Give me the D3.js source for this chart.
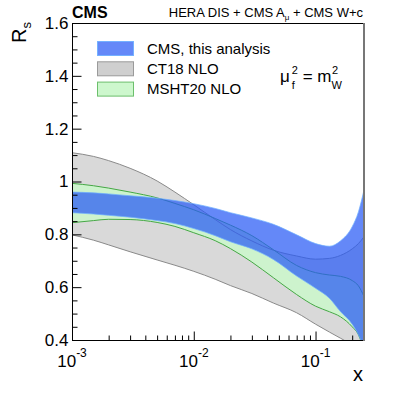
<!DOCTYPE html>
<meta charset="utf-8">
<head>
  <title>Rs vs x</title>
  <script src="https://d3js.org/d3.v7.min.js"></script>
  <style>
    body { margin: 0; background: #fff; }
    text { font-family: "Liberation Sans", Arial, sans-serif; fill: #000; }
  </style>
</head>
<body>
<svg id="chart"></svg>
<script>
// x grid of the bands
var xVals    = [0.001, 0.0015, 0.002, 0.003, 0.005, 0.007, 0.01, 0.015, 0.02, 0.03, 0.045, 0.07, 0.1, 0.13, 0.16, 0.2, 0.225, 0.25];
// CMS, this analysis
var cmsHi    = [0.960, 0.957, 0.953, 0.946, 0.937, 0.928, 0.916, 0.898, 0.882, 0.862, 0.838, 0.798, 0.765, 0.755, 0.775, 0.829, 0.885, 0.968];
var cmsLo    = [0.882, 0.877, 0.872, 0.865, 0.852, 0.841, 0.822, 0.795, 0.772, 0.745, 0.705, 0.642, 0.596, 0.558, 0.508, 0.460, 0.420, 0.370];
// CT18 NLO
var ct18Hi   = [1.109, 1.095, 1.079, 1.050, 1.002, 0.960, 0.912, 0.856, 0.818, 0.775, 0.740, 0.718, 0.706, 0.709, 0.720, 0.745, 0.765, 0.791];
var ct18Lo   = [0.798, 0.778, 0.760, 0.734, 0.703, 0.683, 0.660, 0.630, 0.606, 0.576, 0.540, 0.503, 0.460, 0.430, 0.407, 0.382, 0.368, 0.352];
// MSHT20 NLO
var mshtHi   = [0.993, 0.984, 0.975, 0.960, 0.938, 0.917, 0.893, 0.860, 0.835, 0.795, 0.742, 0.682, 0.655, 0.646, 0.641, 0.625, 0.605, 0.565];
var mshtLo   = [0.844, 0.852, 0.857, 0.856, 0.845, 0.830, 0.806, 0.776, 0.746, 0.695, 0.636, 0.572, 0.528, 0.507, 0.488, 0.450, 0.420, 0.360];

var yMajor = [0.4, 0.6, 0.8, 1.0, 1.2, 1.4, 1.6];
var yLabels = ["0.4", "0.6", "0.8", "1", "1.2", "1.4", "1.6"];
var xMajor = [0.001, 0.01, 0.1];
var xExp = ["-3", "-2", "-1"];
var legendNames = ["CMS, this analysis", "CT18 NLO", "MSHT20 NLO"];

var W = 399, H = 404;
var pL = 72, pR = 364, pT = 23, pB = 340;

var svg = d3.select("#chart").attr("width", W).attr("height", H);

var x = d3.scaleLog().domain([0.001, 0.25]).range([pL, pR]);
var y = d3.scaleLinear().domain([0.4, 1.6]).range([pB, pT]);

svg.append("clipPath").attr("id", "clip")
  .append("rect").attr("x", pL).attr("y", pT)
  .attr("width", pR - pL).attr("height", pB - pT);

function band(hi, lo) {
  return d3.area()
    .x(function(d, i) { return x(xVals[i]); })
    .y0(function(d, i) { return y(lo[i]); })
    .y1(function(d, i) { return y(hi[i]); })
    .curve(d3.curveMonotoneX)(xVals);
}
function edge(vals) {
  return d3.line()
    .x(function(d, i) { return x(xVals[i]); })
    .y(function(d, i) { return y(vals[i]); })
    .curve(d3.curveMonotoneX)(xVals);
}

var plot = svg.append("g").attr("clip-path", "url(#clip)");

var grayFill = "#d9d9d9", grayLine = "#8a8a8a";
var greenFill = "#cdf3cd", greenLine = "#45a845";
var blueFill = "rgba(40,90,245,0.72)", blueLine = "rgba(110,175,255,0.9)";

plot.append("path").attr("d", band(ct18Hi, ct18Lo)).attr("fill", grayFill);
plot.append("path").attr("d", band(mshtHi, mshtLo)).attr("fill", greenFill);
[ct18Hi, ct18Lo].forEach(function(v) {
  plot.append("path").attr("d", edge(v)).attr("fill", "none").attr("stroke", grayLine).attr("stroke-width", 1);
});
[mshtHi, mshtLo].forEach(function(v) {
  plot.append("path").attr("d", edge(v)).attr("fill", "none").attr("stroke", greenLine).attr("stroke-width", 1);
});
plot.append("path").attr("d", band(cmsHi, cmsLo)).attr("fill", blueFill);
[cmsHi, cmsLo].forEach(function(v) {
  plot.append("path").attr("d", edge(v)).attr("fill", "none").attr("stroke", blueLine).attr("stroke-width", 0.8);
});

// frame
svg.append("rect").attr("x", pL + 0.5).attr("y", pT + 0.5)
  .attr("width", pR - pL - 0.5).attr("height", pB - pT)
  .attr("fill", "none").attr("stroke", "#000").attr("stroke-width", 1);
svg.append("line").attr("x1", pR).attr("x2", pR).attr("y1", pT).attr("y2", pB + 1)
  .attr("stroke", "#777").attr("stroke-width", 2);

// y axis ticks (inside)
var yMinor = d3.range(0.45, 1.6, 0.05).filter(function(v) {
  return Math.abs(Math.round(v * 5) - v * 5) > 0.01;
});
svg.append("g").attr("transform", "translate(" + (pL + 0.5) + ",0)")
  .call(d3.axisLeft(y).tickValues(yMinor).tickSize(-5).tickFormat(""))
  .call(function(g) { g.select(".domain").remove(); });
var yAx = svg.append("g").attr("transform", "translate(" + (pL + 0.5) + ",0)")
  .call(d3.axisLeft(y).tickValues(yMajor).tickSize(-9).tickPadding(4)
    .tickFormat(function(d, i) { return yLabels[i]; }));
yAx.select(".domain").remove();
yAx.selectAll("text").style("font-size", "17px").attr("font-family", null);

// x axis ticks (inside)
var xMinor = [];
[0.001, 0.01, 0.1].forEach(function(dec) {
  for (var k = 2; k <= 9; k++) if (dec * k <= 0.25) xMinor.push(dec * k);
});
svg.append("g").attr("transform", "translate(0," + (pB + 0.5) + ")")
  .call(d3.axisBottom(x).tickValues(xMinor).tickSize(-5).tickFormat(""))
  .call(function(g) { g.select(".domain").remove(); });
svg.append("g").attr("transform", "translate(0," + (pB + 0.5) + ")")
  .call(d3.axisBottom(x).tickValues(xMajor).tickSize(-9).tickFormat(""))
  .call(function(g) { g.select(".domain").remove(); });

var xl = svg.selectAll(".xlab").data(xMajor).enter().append("text")
  .attr("class", "xlab")
  .attr("x", function(d) { return x(d); })
  .attr("y", 367)
  .attr("text-anchor", "middle")
  .style("font-size", "17px");
xl.append("tspan").text("10");
xl.append("tspan").attr("dy", -10).style("font-size", "12px").text(function(d, i) { return xExp[i]; });

svg.selectAll(".tick line").attr("stroke", "#000");

// axis titles
svg.append("text").attr("x", 363).attr("y", 381).attr("text-anchor", "end")
  .style("font-size", "20px").text("x");
var yt = svg.append("text").attr("transform", "translate(26,43) rotate(-90)")
  .attr("text-anchor", "start").style("font-size", "20px");
yt.append("tspan").text("R");
yt.append("tspan").attr("dy", 5).style("font-size", "13px").text("s");

// header
svg.append("text").attr("x", 72).attr("y", 18).style("font-size", "16px")
  .style("font-weight", "bold").text("CMS");
var hd = svg.append("text").attr("x", 363).attr("y", 17).attr("text-anchor", "end")
  .style("font-size", "13px");
hd.append("tspan").text("HERA DIS + CMS A");
hd.append("tspan").attr("dy", 3).style("font-size", "8px").text("\u03bc");
hd.append("tspan").attr("dy", -3).text(" + CMS W+c");

// legend
var legFill = [blueFill, "#cfcfcf", "#cdf7cd"];
var legLine = ["rgba(110,175,255,0.9)", "#9a9a9a", "#6cbf6c"];
var leg = svg.selectAll(".leg").data(legendNames).enter().append("g")
  .attr("class", "leg")
  .attr("transform", function(d, i) { return "translate(0," + (41 + i * 20.3) + ")"; });
leg.append("rect").attr("x", 97.5).attr("y", 0.5).attr("width", 36).attr("height", 14)
  .attr("fill", function(d, i) { return legFill[i]; })
  .attr("stroke", function(d, i) { return legLine[i]; });
leg.append("text").attr("x", 147).attr("y", 12.5).style("font-size", "15px")
  .text(function(d) { return d; });

// scale label
var mu = svg.append("text").attr("x", 280).attr("y", 82).style("font-size", "17px");
mu.append("tspan").text("\u03bc");
mu.append("tspan").attr("dy", 7).attr("dx", 2).style("font-size", "11px").text("f");
mu.append("tspan").attr("dy", -15).attr("dx", -3).style("font-size", "11px").text("2");
mu.append("tspan").attr("dy", 8).text(" = m");
mu.append("tspan").attr("dy", 7).style("font-size", "11px").text("W");
mu.append("tspan").attr("dy", -15).attr("dx", -10).style("font-size", "11px").text("2");
</script>
</body>
